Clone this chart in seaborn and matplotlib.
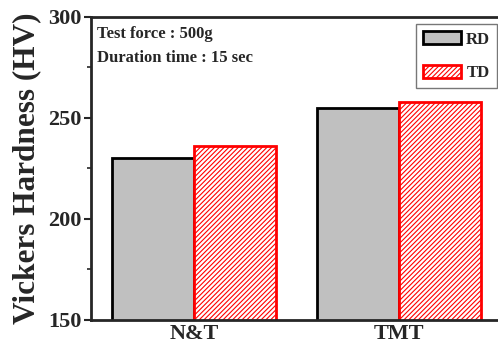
import pandas as pd
import matplotlib
matplotlib.use('Agg')
import matplotlib.pyplot as plt
import seaborn as sb

# data
samples = ['N&T', 'TMT']
directions = ['RD', 'TD']
rd_hv = [230, 255]
td_hv = [236, 258]

data = pd.DataFrame({
    'sample': samples * 2,
    'direction': ['RD'] * len(samples) + ['TD'] * len(samples),
    'hv': rd_hv + td_hv,
})

sb.set_style('ticks')
plt.rcParams['font.family'] = ['Liberation Serif', 'DejaVu Serif']
plt.rcParams['font.weight'] = 'bold'
plt.rcParams['hatch.linewidth'] = 0.8

fig = plt.figure(figsize=(4.98, 3.52), dpi=100)
ax = fig.add_axes([0.183, 0.091, 0.825, 0.861])

sb.barplot(data=data, x='sample', y='hv', hue='direction', hue_order=directions,
           width=0.8, gap=0, ax=ax, legend=False)

for bar in ax.containers[0]:
    bar.set_facecolor('#c0c0c0')
    bar.set_edgecolor('black')
    bar.set_linewidth(2)
for bar in ax.containers[1]:
    bar.set_facecolor('white')
    bar.set_edgecolor('red')
    bar.set_hatch('///////')
    bar.set_linewidth(2)

ax.set_ylim(150, 300)
ax.set_xlim(-0.5, 1.5)
ax.set_yticks([150, 200, 250, 300])
ax.set_yticks([175, 225, 275], minor=True)
ax.tick_params(axis='y', which='major', length=5, width=1.5, labelsize=16, pad=2)
ax.tick_params(axis='y', which='minor', length=3, width=1.2)
ax.tick_params(axis='x', length=0, labelsize=16, pad=3)
for lab in ax.get_xticklabels() + ax.get_yticklabels():
    lab.set_fontweight('bold')
for s in ax.spines.values():
    s.set_linewidth(2)
    s.set_visible(True)

ax.set_xlabel('')
ax.set_ylabel('Vickers Hardness (HV)', fontsize=22.5, fontweight='bold', labelpad=5)

ax.text(0.014, 0.97, 'Test force : 500g', transform=ax.transAxes,
        fontsize=12, fontweight='bold', va='top')
ax.text(0.014, 0.89, 'Duration time : 15 sec', transform=ax.transAxes,
        fontsize=12, fontweight='bold', va='top')

leg = ax.legend(handles=[ax.containers[0][0], ax.containers[1][0]], labels=directions,
                loc='upper right', bbox_to_anchor=(0.988, 0.975), fontsize=12,
                frameon=True, fancybox=False, edgecolor='#555555',
                handlelength=2.3, handleheight=0.85, borderpad=0.4, labelspacing=1.05,
                handletextpad=0.3, borderaxespad=0)
leg.get_frame().set_linewidth(1)
for t in leg.get_texts():
    t.set_fontweight('bold')

fig.savefig('out.png', dpi=100)
